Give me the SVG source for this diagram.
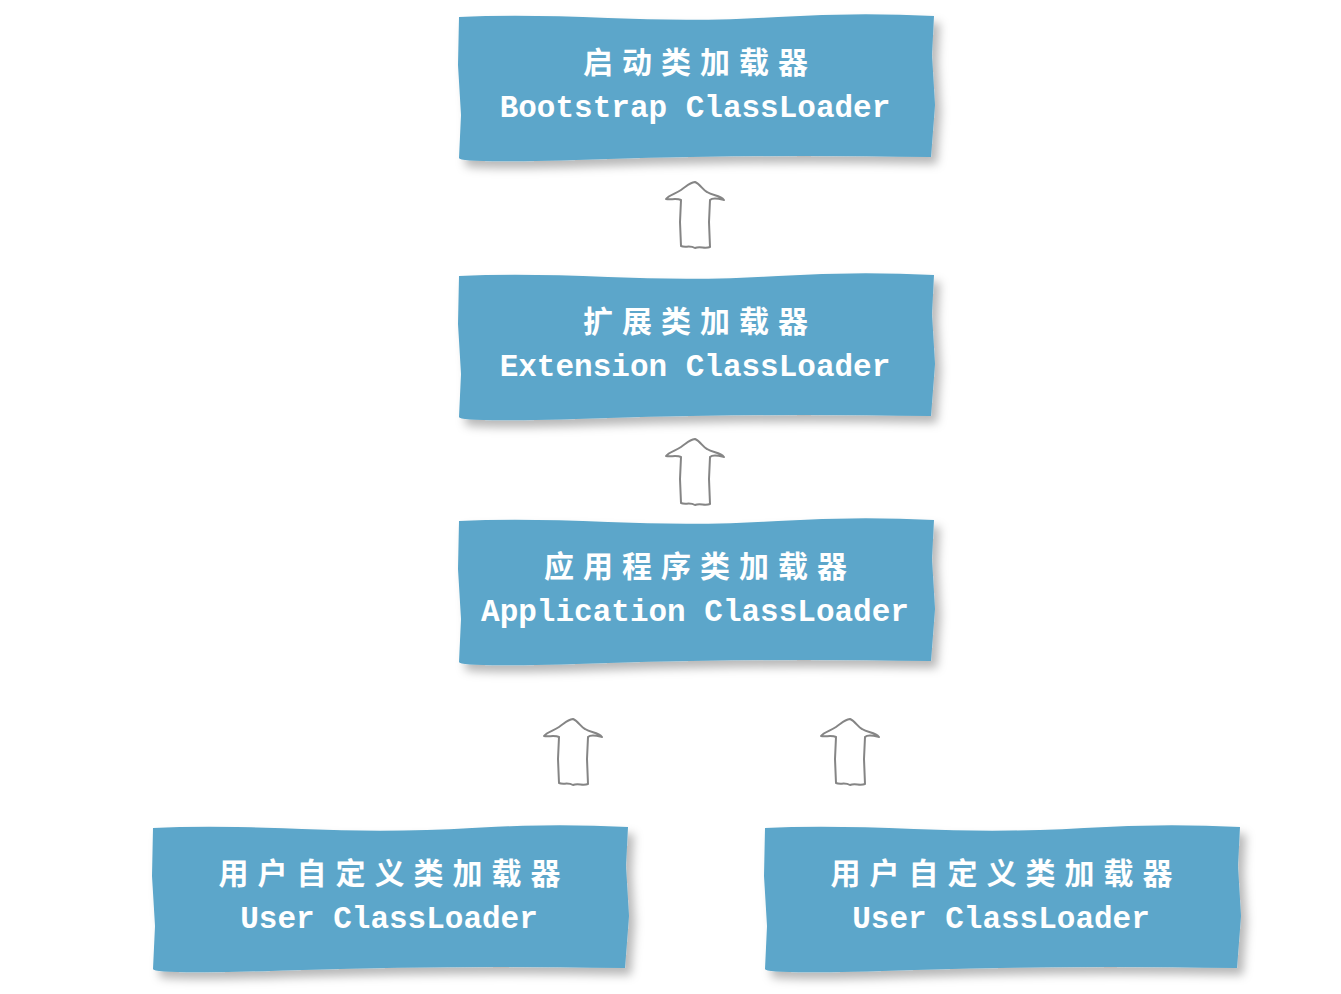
<svg xmlns="http://www.w3.org/2000/svg" xmlns:xlink="http://www.w3.org/1999/xlink" width="1341" height="994" viewBox="0 0 1341 994">
<defs>
<filter id="sh" x="-10%" y="-20%" width="125%" height="150%">
<feDropShadow dx="6" dy="7" stdDeviation="5" flood-color="#000" flood-opacity="0.28"/>
</filter>
<path id="box" d="M1,2 Q60,-1 150,3 T320,2 T476,1 L474,40 L477,90 L473,142 Q300,139 150,144 T1,143 L3,100 L0,50 Z"/>
<path id="arr" d="M0,0 C5,2 8,8 12,10 C18,14 25,13 29,18 C25,17 18,15 15,18 L14,40 L15,65 C10,67 5,64 0,66 C-5,63 -10,66 -14,64 L-15,40 L-14,18 C-18,16 -25,18 -29,17 C-26,13 -20,12 -14,8 C-8,4 -6,1 0,0 Z"/>
</defs>
<style>
.bx{fill:#5ba6ca;filter:url(#sh)}
.cn{font-family:"Noto Sans CJK SC",sans-serif;font-weight:bold;font-size:30px;letter-spacing:9px;fill:#fff;text-anchor:middle}
.en{font-family:"Liberation Mono",monospace;font-weight:bold;font-size:31px;fill:#fff;text-anchor:middle}
.ar{fill:#fff;stroke:#858585;stroke-width:2;stroke-linejoin:round}
</style>
<rect width="1341" height="994" fill="#fff"/>
<g id="connectors">
<use href="#arr" class="ar" x="695" y="182"/>
<use href="#arr" class="ar" x="695" y="439"/>
<use href="#arr" class="ar" x="573" y="719"/>
<use href="#arr" class="ar" x="850" y="719"/>
</g>
<g id="bootstrap">
<use href="#box" class="bx" x="458" y="15"/>
<text class="cn" x="700" y="73">启动类加载器</text>
<text class="en" x="695" y="117">Bootstrap ClassLoader</text>
</g>
<g id="extension">
<use href="#box" class="bx" x="458" y="274"/>
<text class="cn" x="700" y="332">扩展类加载器</text>
<text class="en" x="695" y="376">Extension ClassLoader</text>
</g>
<g id="application">
<use href="#box" class="bx" x="458" y="519"/>
<text class="cn" x="700" y="577">应用程序类加载器</text>
<text class="en" x="695" y="621">Application ClassLoader</text>
</g>
<g id="user1">
<use href="#box" class="bx" x="152" y="826"/>
<text class="cn" x="394" y="884">用户自定义类加载器</text>
<text class="en" x="389" y="928">User ClassLoader</text>
</g>
<g id="user2">
<use href="#box" class="bx" x="764" y="826"/>
<text class="cn" x="1006" y="884">用户自定义类加载器</text>
<text class="en" x="1001" y="928">User ClassLoader</text>
</g>
</svg>
